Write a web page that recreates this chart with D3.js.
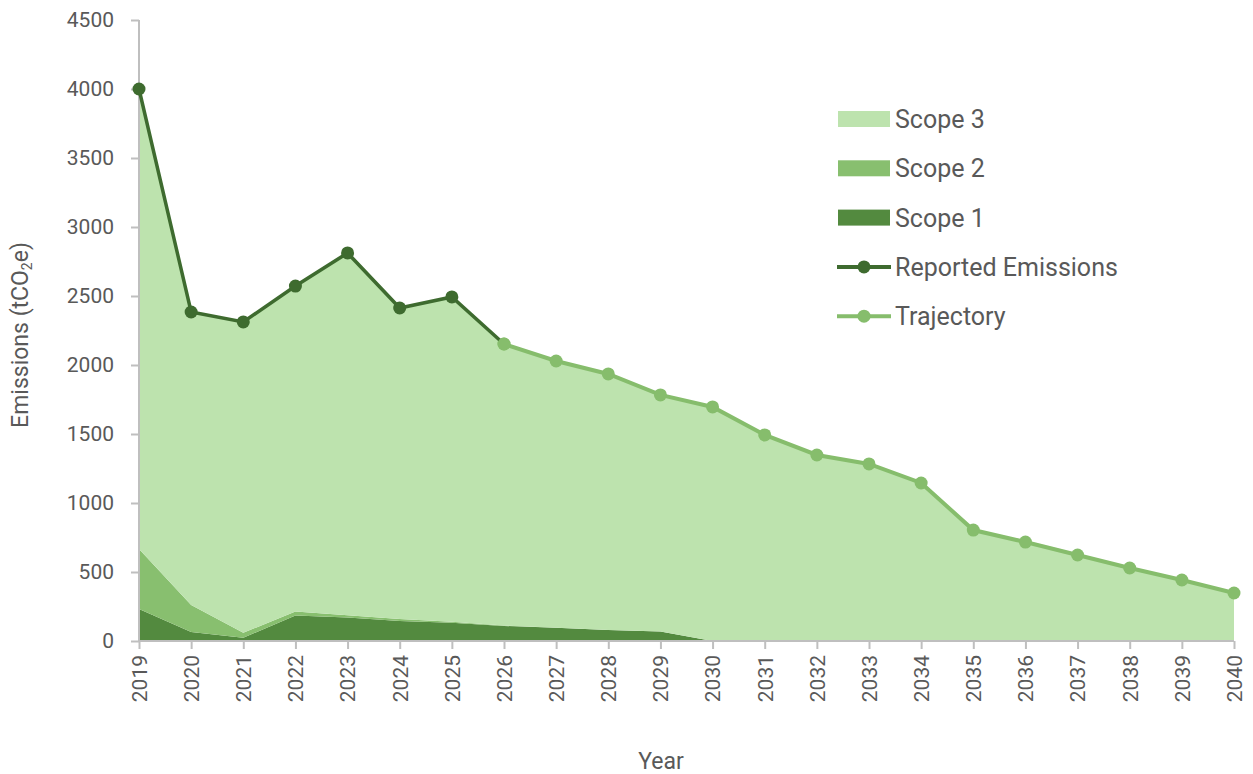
<!DOCTYPE html>
<html><head><meta charset="utf-8">
<script src="https://cdn.jsdelivr.net/npm/d3@7"></script>
<style>
body{margin:0;background:#fff;}
text{font-family:"Roboto","Liberation Sans",sans-serif;fill:#595959;}
</style></head>
<body><svg id="chart" width="1253" height="774"></svg>
<script>
const years = [2019,2020,2021,2022,2023,2024,2025,2026,2027,2028,2029,2030,2031,2032,2033,2034,2035,2036,2037,2038,2039,2040];
const totals = [4000,2384,2312,2572,2812,2413,2493,2152,2029,1935,1783,1696,1493,1348,1283,1145,804,717,623,529,442,348];
const scope1 = [232,65,24,184,170,145,133,109,96,80,68,0,0,0,0,0,0,0,0,0,0,0];
const scope2 = [435,196,36,29,17,14,7,3,0,0,0,0,0,0,0,0,0,0,0,0,0,0];
const scope3 = totals.map((t,i)=>t-scope1[i]-scope2[i]);
const reportedYears = [2019,2020,2021,2022,2023,2024,2025,2026];
const reported = [4000,2384,2312,2572,2812,2413,2493,2152];
const trajectoryYears = [2026,2027,2028,2029,2030,2031,2032,2033,2034,2035,2036,2037,2038,2039,2040];
const trajectory = [2152,2029,1935,1783,1696,1493,1348,1283,1145,804,717,623,529,442,348];
const yTicks = [0,500,1000,1500,2000,2500,3000,3500,4000,4500];

const colors = {s3:"#bde3ae", s2:"#88bf6f", s1:"#538a3f", rep:"#3e6b2f", traj:"#86bd6c"};
const svg = d3.select("#chart");
const x = d3.scaleLinear().domain([2019,2040]).range([139,1234]);
const y = d3.scaleLinear().domain([0,4500]).range([641,20]);

const table = years.map((yr,i)=>({year:yr, s1:scope1[i], s2:scope2[i], s3:scope3[i]}));
const stack = d3.stack().keys(["s1","s2","s3"])(table);
const area = d3.area().x(d=>x(d.data.year)).y0(d=>y(d[0])).y1(d=>y(d[1]));
const fills = {s1:colors.s1, s2:colors.s2, s3:colors.s3};
svg.append("g").selectAll("path").data(stack).join("path")
  .attr("d",area).attr("fill",d=>fills[d.key]);

// axes
const yAxis = d3.axisLeft(y).tickValues(yTicks).tickSize(8).tickPadding(17).tickFormat(d3.format("d"));
const gy = svg.append("g").attr("transform","translate(139,0)").call(yAxis);
gy.attr("font-family",null);
gy.select(".domain").attr("stroke","#bfbfbf").attr("stroke-width",2).attr("d","M0,20V641");
gy.selectAll(".tick line").attr("stroke","#bfbfbf").attr("stroke-width",2);
gy.selectAll(".tick text").attr("font-size",21).attr("fill","#595959");

const xAxis = d3.axisBottom(x).tickValues(years).tickSize(8).tickFormat(d3.format("d"));
const gx = svg.append("g").attr("transform","translate(0,641)").call(xAxis);
gx.attr("font-family",null);
gx.select(".domain").attr("stroke","#bfbfbf").attr("stroke-width",2).attr("d","M139,0H1234");
gx.selectAll(".tick line").attr("stroke","#bfbfbf").attr("stroke-width",2);
gx.selectAll(".tick text").attr("font-size",21).attr("fill","#595959")
  .attr("transform","rotate(-90)").attr("text-anchor","end").attr("dx","-14").attr("dy","0.35em").attr("x",0).attr("y",0);

// lines
const line = d3.line().x(d=>x(d[0])).y(d=>y(d[1]));
const trajPts = trajectoryYears.map((yr,i)=>[yr,trajectory[i]]);
svg.append("path").attr("d",line(trajPts)).attr("fill","none").attr("stroke",colors.traj).attr("stroke-width",4);
svg.append("g").selectAll("circle").data(trajPts).join("circle")
  .attr("cx",d=>x(d[0])).attr("cy",d=>y(d[1])).attr("r",6.5).attr("fill",colors.traj);
const repPts = reportedYears.map((yr,i)=>[yr,reported[i]]);
svg.append("path").attr("d",line(repPts)).attr("fill","none").attr("stroke",colors.rep).attr("stroke-width",3.5);
svg.append("g").selectAll("circle").data(repPts.slice(0,-1)).join("circle")
  .attr("cx",d=>x(d[0])).attr("cy",d=>y(d[1])).attr("r",6.5).attr("fill",colors.rep);
svg.append("circle").attr("cx",x(2026)).attr("cy",y(2152)).attr("r",6.5).attr("fill",colors.traj);

// titles
svg.append("text").attr("x",661).attr("y",769).attr("text-anchor","middle").attr("font-size",23).text("Year");
const yt = svg.append("text").attr("transform","translate(28,335) rotate(-90)").attr("text-anchor","middle").attr("font-size",23);
yt.append("tspan").text("Emissions (tCO");
yt.append("tspan").attr("font-size",14).attr("dy",4).text("2");
yt.append("tspan").attr("dy",-4).text("e)");

// legend
const legendItems = [
  {label:"Scope 3", type:"rect", color:colors.s3},
  {label:"Scope 2", type:"rect", color:colors.s2},
  {label:"Scope 1", type:"rect", color:colors.s1},
  {label:"Reported Emissions", type:"line", color:colors.rep},
  {label:"Trajectory", type:"line", color:colors.traj}
];
const lg = svg.append("g");
legendItems.forEach((it,i)=>{
  const cy = 119 + i*49.3;
  if(it.type==="rect"){
    lg.append("rect").attr("x",838).attr("y",cy-8).attr("width",52).attr("height",16).attr("fill",it.color);
  } else {
    lg.append("line").attr("x1",837).attr("x2",891).attr("y1",cy).attr("y2",cy).attr("stroke",it.color).attr("stroke-width",4);
    lg.append("circle").attr("cx",864).attr("cy",cy).attr("r",6.5).attr("fill",it.color);
  }
  lg.append("text").attr("x",895).attr("y",cy).attr("dy","0.36em").attr("font-size",25).text(it.label);
});
</script></body></html>
